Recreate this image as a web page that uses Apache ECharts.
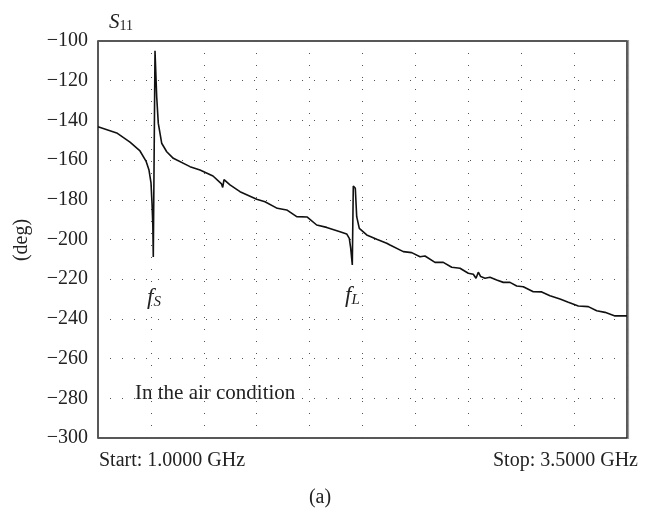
<!DOCTYPE html>
<html>
<head>
<meta charset="utf-8">
<script src="https://cdn.jsdelivr.net/npm/echarts@6/dist/echarts.min.js"></script>
<style>
html,body{margin:0;padding:0;background:#fff;}
#chart{width:645px;height:511px;}
</style>
</head>
<body>
<div id="chart"></div>
<script>
// Frequency (GHz)
const freqGHz = [1.000,1.0884,1.1512,1.1985,1.2268,1.2410,1.2505,1.2552,1.2590,1.2613,1.2694,1.2774,1.2850,1.3010,1.3247,1.3559,1.4348,1.4820,1.5435,1.5837,1.5893,1.5955,1.6238,1.6711,1.7500,1.7892,1.8473,1.8918,1.9390,1.9891,2.0335,2.0808,2.1437,2.1753,2.1876,2.1942,2.2018,2.2065,2.2160,2.2226,2.2349,2.2699,2.3171,2.3644,2.3800,2.4428,2.4825,2.5217,2.5454,2.5926,2.6319,2.6716,2.7108,2.7500,2.7737,2.7864,2.7973,2.8086,2.8289,2.8525,2.8842,2.9154,2.9471,2.9787,3.0099,3.0572,3.0969,3.1361,3.1834,3.2226,3.2699,3.3171,3.3568,3.3960,3.4433,3.5000];
// S11 phase (deg)
const phaseDeg = [-143.2,-146.3,-150.9,-155.4,-160.5,-165.0,-171.5,-181.6,-192.6,-208.8,-104.9,-128.1,-141.5,-151.5,-155.8,-159.1,-163.3,-165.0,-168.0,-172.0,-173.8,-169.8,-172.5,-175.9,-179.7,-181.0,-184.3,-185.1,-188.5,-188.7,-192.7,-193.9,-196.1,-197.2,-199.4,-204.4,-212.8,-173.0,-174.2,-188.5,-194.4,-197.7,-199.9,-201.9,-202.8,-206.1,-206.6,-208.7,-208.3,-211.5,-211.5,-214.0,-214.5,-217.0,-217.5,-219.5,-216.5,-218.7,-219.5,-219.0,-220.4,-221.6,-221.6,-223.4,-223.8,-226.3,-226.4,-228.3,-230.0,-231.6,-233.5,-233.8,-235.9,-236.7,-238.5,-238.5];
// Axis ticks
const yTicks = [-300,-280,-260,-240,-220,-200,-180,-160,-140,-120,-100];
const xRange = [1.0, 3.5];
const xStep = 0.25;
const startLabel = 'Start: 1.0000 GHz';
const stopLabel = 'Stop: 3.5000 GHz';
const noteText = 'In the air condition';

const serif = '"Liberation Serif", "DejaVu Serif", serif';
const data = freqGHz.map((f, i) => [f, phaseDeg[i]]);
const fs = 20;

const chart = echarts.init(document.getElementById('chart'));
chart.setOption({
  animation: false,
  backgroundColor: '#fff',
  grid: {left: 98, right: 18, top: 41, bottom: 73, show: true, borderColor: '#222', borderWidth: 1.5, backgroundColor: 'transparent'},
  xAxis: {
    type: 'value', min: xRange[0], max: xRange[1], interval: xStep,
    axisLine: {show: false}, axisTick: {show: false}, axisLabel: {show: false},
    splitLine: {show: true, lineStyle: {color: '#555', width: 1, type: [1, 11]}}
  },
  yAxis: {
    type: 'value', min: yTicks[0], max: yTicks[yTicks.length - 1], interval: 20,
    axisLine: {show: false}, axisTick: {show: false},
    axisLabel: {
      fontFamily: serif, fontSize: fs, color: '#222', margin: 10,
      formatter: v => String(v).replace('-', '\u2212')
    },
    splitLine: {show: true, lineStyle: {color: '#555', width: 1, type: [1, 11]}}
  },
  series: [{
    type: 'line', data: data, showSymbol: false, smooth: false,
    lineStyle: {color: '#111', width: 1.6}
  }],
  graphic: [
    {type: 'line', shape: {x1: 628.5, y1: 40, x2: 628.5, y2: 439}, style: {stroke: '#999', lineWidth: 1.2}},
    {type: 'text', left: 109, top: 12, style: {text: '{i|S}{s|11}', rich: {i: {fontFamily: serif, fontStyle: 'italic', fontSize: 21, fill: '#222'}, s: {fontFamily: serif, fontSize: 14, fill: '#222', padding: [8, 0, 0, 0]}}}},
    {type: 'text', x: 22, y: 240, rotation: Math.PI / 2, style: {text: '(deg)', fontFamily: serif, fontSize: fs, fill: '#222', align: 'center', verticalAlign: 'middle'}},
    {type: 'text', left: 99, top: 451, style: {text: startLabel, fontFamily: serif, fontSize: fs, fill: '#222'}},
    {type: 'text', right: 7, top: 451, style: {text: stopLabel, fontFamily: serif, fontSize: fs, fill: '#222'}},
    {type: 'text', x: 320, y: 498, style: {text: '(a)', fontFamily: serif, fontSize: fs, fill: '#222', align: 'center', verticalAlign: 'middle'}},
    {type: 'text', left: 135, top: 383, style: {text: noteText, fontFamily: serif, fontSize: 21, fill: '#222'}},
    {type: 'text', left: 147, top: 286, style: {text: '{i|f}{s|S}', rich: {i: {fontFamily: serif, fontStyle: 'italic', fontSize: 23, fill: '#222'}, s: {fontFamily: serif, fontStyle: 'italic', fontSize: 15, fill: '#222', padding: [9, 0, 0, 0]}}}},
    {type: 'text', left: 345, top: 284, style: {text: '{i|f}{s|L}', rich: {i: {fontFamily: serif, fontStyle: 'italic', fontSize: 23, fill: '#222'}, s: {fontFamily: serif, fontStyle: 'italic', fontSize: 15, fill: '#222', padding: [9, 0, 0, 0]}}}}
  ]
});
</script>
</body>
</html>
